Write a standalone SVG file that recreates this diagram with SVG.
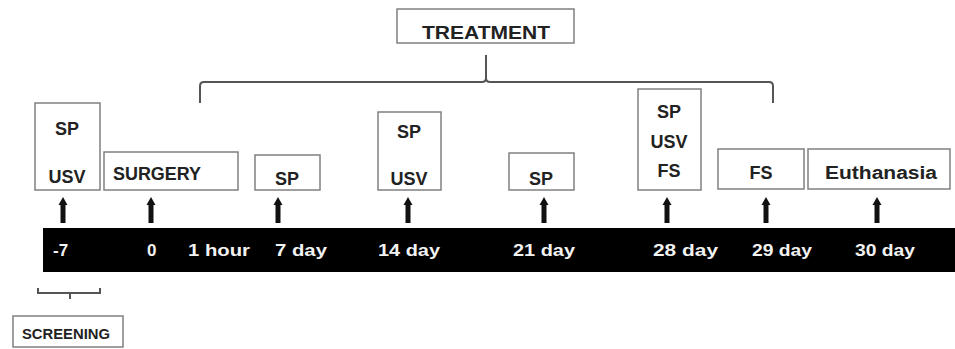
<svg xmlns="http://www.w3.org/2000/svg" width="955" height="349" viewBox="0 0 955 349">
<defs>
<style>
.box{fill:#fff;stroke:#808080;stroke-width:1.5}
.t{font-family:"Liberation Sans",Arial,sans-serif;font-weight:bold;font-size:18px;fill:#222;text-anchor:middle}
.w{font-family:"Liberation Sans",Arial,sans-serif;font-weight:bold;font-size:17px;fill:#f2f2f2}
.br{fill:none;stroke:#555;stroke-width:2}
.ar{fill:#111}
</style>
<g id="arrowShape"><path d="M0,-13 L4.5,-5 L2.5,-5 L2.5,13 L-2.5,13 L-2.5,-5 L-4.5,-5 Z"/></g>
</defs>
<rect width="955" height="349" fill="#fff"/>

<g id="timeline">
<rect x="43" y="228" width="912" height="44" fill="#000"/>
<text class="w" x="53" y="256">-7</text>
<text class="w" x="147" y="256">0</text>
<text class="w" x="188" y="256" textLength="62" lengthAdjust="spacingAndGlyphs">1 hour</text>
<text class="w" x="275" y="256" textLength="52" lengthAdjust="spacingAndGlyphs">7 day</text>
<text class="w" x="378" y="256" textLength="62" lengthAdjust="spacingAndGlyphs">14 day</text>
<text class="w" x="513" y="256" textLength="62" lengthAdjust="spacingAndGlyphs">21 day</text>
<text class="w" x="653" y="256" textLength="65" lengthAdjust="spacingAndGlyphs">28  day</text>
<text class="w" x="752" y="256" textLength="60" lengthAdjust="spacingAndGlyphs">29 day</text>
<text class="w" x="855" y="256" textLength="60" lengthAdjust="spacingAndGlyphs">30 day</text>
</g>

<g id="treatment">
<rect class="box" x="397" y="9" width="177" height="34"/>
<text class="t" x="486" y="39" textLength="128" lengthAdjust="spacingAndGlyphs">TREATMENT</text>
</g>

<g id="connectors">
<path class="br" d="M200,103 L200,86 Q200,82 204,82 L482,82 Q486,82 486,78 L486,55 L486,78 Q486,82 490,82 L769,82 Q773,82 773,86 L773,103"/>
<path class="br" d="M38,288 L38,293 L100,293 L100,288 M70,293 L70,299" stroke-width="1.5"/>
<g class="ar">
<use href="#arrowShape" x="63" y="210"/>
<use href="#arrowShape" x="151" y="210"/>
<use href="#arrowShape" x="278" y="210"/>
<use href="#arrowShape" x="408" y="210"/>
<use href="#arrowShape" x="544" y="210"/>
<use href="#arrowShape" x="667" y="210"/>
<use href="#arrowShape" x="766" y="210"/>
<use href="#arrowShape" x="877" y="210"/>
</g>
</g>

<g id="n-screen">
<rect class="box" x="35" y="103" width="65" height="87"/>
<text class="t" x="67" y="135">SP</text>
<text class="t" x="67" y="183">USV</text>
</g>

<g id="n-surgery">
<rect class="box" x="104" y="152" width="134" height="38"/>
<text class="t" x="113" y="180" style="text-anchor:start" textLength="88" lengthAdjust="spacingAndGlyphs">SURGERY</text>
</g>

<g id="n-day7">
<rect class="box" x="255" y="155" width="65" height="35"/>
<text class="t" x="287" y="185">SP</text>
</g>

<g id="n-day14">
<rect class="box" x="378" y="112" width="63" height="78"/>
<text class="t" x="409" y="138">SP</text>
<text class="t" x="409" y="185">USV</text>
</g>

<g id="n-day21">
<rect class="box" x="509" y="153" width="65" height="37"/>
<text class="t" x="541" y="185">SP</text>
</g>

<g id="n-day28">
<rect class="box" x="638" y="89" width="63" height="101"/>
<text class="t" x="669" y="118">SP</text>
<text class="t" x="669" y="148">USV</text>
<text class="t" x="669" y="177">FS</text>
</g>

<g id="n-day29">
<rect class="box" x="718" y="149" width="86" height="40"/>
<text class="t" x="761" y="179">FS</text>
</g>

<g id="n-day30">
<rect class="box" x="808" y="149" width="142" height="40"/>
<text class="t" x="881" y="179" textLength="112" lengthAdjust="spacingAndGlyphs">Euthanasia</text>
</g>

<g id="n-screening">
<rect class="box" x="13" y="316" width="110" height="31"/>
<text class="t" x="66" y="339" style="font-size:14px" textLength="88" lengthAdjust="spacingAndGlyphs">SCREENING</text>
</g>
</svg>
